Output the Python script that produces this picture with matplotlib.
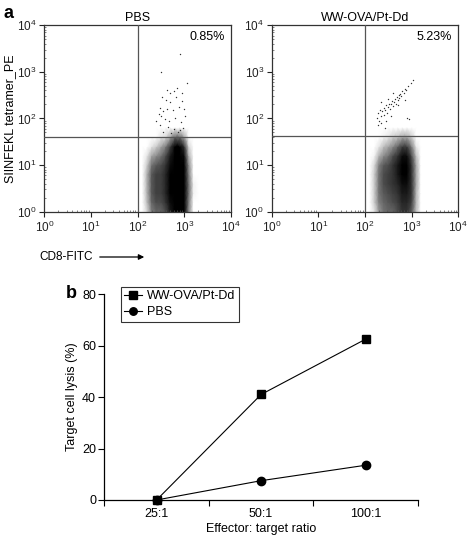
import numpy as np
import matplotlib
matplotlib.use('Agg')
import matplotlib.pyplot as plt
from matplotlib.ticker import LogLocator, NullFormatter, FixedLocator

plt.rcParams['font.family'] = ['Liberation Sans', 'DejaVu Sans']
plt.rcParams['mathtext.fontset'] = 'custom'
plt.rcParams['mathtext.rm'] = 'Liberation Sans'

# --- panel a: flow cytometry (values in log10 units) ---
panel_titles = ['PBS', 'WW-OVA/Pt-Dd']
panel_pcts = ['0.85%', '5.23%']
gate_y = [40, 42]
gate_x = 100

# density grid of the main cloud (0 = white, 1 = black)
grid_logx = [2.1, 2.2, 2.3, 2.4, 2.5, 2.6, 2.7, 2.8, 2.9, 3.0, 3.1, 3.2, 3.3]
grid_logy = [0.0, 0.2, 0.4, 0.6, 0.8, 1.0, 1.2, 1.4, 1.6, 1.8]
pbs_density = [
    [0, .15, .50, .60, .60, .70, .90, 1.0, 1.0, 1.0, .45, 0, 0],
    [0, .25, .60, .70, .70, .80, .95, 1.0, 1.0, 1.0, .50, 0, 0],
    [0, .30, .65, .75, .75, .85, 1.0, 1.0, 1.0, 1.0, .55, .05, 0],
    [0, .30, .65, .75, .75, .85, 1.0, 1.0, 1.0, 1.0, .55, .05, 0],
    [0, .30, .65, .75, .75, .85, 1.0, 1.0, 1.0, 1.0, .50, 0, 0],
    [0, .20, .55, .65, .70, .80, .95, 1.0, 1.0, 1.0, .45, 0, 0],
    [0, .10, .35, .45, .55, .70, .90, 1.0, 1.0, .95, .30, 0, 0],
    [0, 0, .10, .20, .35, .50, .75, 1.0, 1.0, .80, .15, 0, 0],
    [0, 0, 0, 0, .10, .15, .35, .60, .60, .35, 0, 0, 0],
    [0, 0, 0, 0, 0, 0, 0, 0, 0, 0, 0, 0, 0],
]
ova_density = [
    [0, .10, .40, .55, .60, .60, .70, .80, .80, .65, .25, 0, 0],
    [0, .20, .50, .60, .65, .70, .75, .85, .85, .75, .30, 0, 0],
    [0, .20, .55, .65, .70, .75, .80, .90, .90, .80, .30, 0, 0],
    [0, .20, .55, .70, .75, .80, .85, .95, .95, .80, .35, 0, 0],
    [0, .20, .55, .70, .75, .80, .90, 1.0, 1.0, .80, .35, 0, 0],
    [0, .15, .50, .65, .70, .80, .90, 1.0, 1.0, .80, .35, 0, 0],
    [0, .05, .30, .45, .55, .70, .80, .95, .95, .70, .25, 0, 0],
    [0, 0, .10, .25, .35, .45, .60, .75, .75, .50, .10, 0, 0],
    [0, 0, 0, .05, .10, .20, .25, .35, .35, .20, 0, 0, 0],
    [0, 0, 0, 0, 0, 0, 0, 0, 0, 0, 0, 0, 0],
]

# scattered events above the gate
pbs_up_x = [2.91, 2.51, 3.05, 2.62, 2.70, 2.78, 2.85, 2.52, 2.60, 2.70, 2.83, 2.95,
            2.48, 2.55, 2.45, 2.50, 2.62, 2.75, 2.88, 3.00, 2.58, 2.68, 2.80, 2.92,
            3.02, 2.47, 2.65, 2.78, 2.90, 2.98, 2.86, 2.72, 2.55, 2.95, 2.40]
pbs_up_y = [3.39, 3.00, 2.76, 2.62, 2.55, 2.58, 2.65, 2.45, 2.40, 2.35, 2.45, 2.38,
            2.22, 2.15, 2.10, 2.05, 2.20, 2.18, 2.25, 2.20, 1.98, 1.95, 2.00, 1.92,
            2.05, 1.85, 1.82, 1.78, 1.75, 1.80, 1.70, 1.68, 1.72, 2.55, 1.95]
ova_up_x = [2.25, 2.28, 2.30, 2.32, 2.35, 2.37, 2.40, 2.40, 2.43, 2.45, 2.47, 2.50,
            2.52, 2.54, 2.56, 2.58, 2.60, 2.62, 2.64, 2.66, 2.68, 2.70, 2.72, 2.74,
            2.76, 2.78, 2.80, 2.83, 2.86, 2.88, 2.92, 2.98, 3.02, 2.28, 2.35, 2.46,
            2.55, 2.90, 2.95, 2.60, 2.35, 2.85, 2.42, 2.70, 2.50]
ova_up_y = [2.02, 2.12, 1.95, 2.18, 2.05, 2.15, 2.22, 2.08, 2.18, 2.28, 2.12, 2.25,
            2.32, 2.20, 2.30, 2.38, 2.26, 2.35, 2.42, 2.32, 2.45, 2.40, 2.50, 2.44,
            2.52, 2.48, 2.58, 2.55, 2.64, 2.60, 2.70, 2.76, 2.82, 1.85, 1.90, 1.95,
            2.05, 2.02, 1.98, 2.55, 2.35, 2.40, 1.80, 2.28, 2.42]

# --- panel b: cytotoxicity ---
ratios = ['25:1', '50:1', '100:1']
lysis_ova = [0, 41, 62.5]
lysis_pbs = [0, 7.5, 13.5]

fig = plt.figure(figsize=(4.7, 5.36), dpi=100)

densities = [pbs_density, ova_density]
ups = [(pbs_up_x, pbs_up_y), (ova_up_x, ova_up_y)]
lefts = [0.0943, 0.578]
for i in range(2):
    ax = fig.add_axes([lefts[i], 0.605, 0.397, 0.348])
    ax.set_xscale('log')
    ax.set_yscale('log')
    gx = 10 ** np.array(grid_logx)
    gy = 10 ** np.array(grid_logy)
    ax.pcolormesh(gx, gy, np.array(densities[i]), cmap='gray_r', vmin=0, vmax=1,
                  shading='gouraud', zorder=1)
    ux, uy = ups[i]
    ax.scatter(10 ** np.array(ux), 10 ** np.array(uy), s=1.0, c='#333333',
               linewidths=0, zorder=2)
    ax.axvline(gate_x, color='#555555', lw=0.9, zorder=3)
    ax.axhline(gate_y[i], color='#555555', lw=0.9, zorder=3)
    ax.set_xlim(1, 1e4)
    ax.set_ylim(1, 1e4)
    ax.xaxis.set_major_locator(LogLocator(base=10, numticks=10))
    ax.yaxis.set_major_locator(LogLocator(base=10, numticks=10))
    ax.xaxis.set_minor_locator(LogLocator(base=10, subs=np.arange(2, 10), numticks=10))
    ax.yaxis.set_minor_locator(LogLocator(base=10, subs=np.arange(2, 10), numticks=10))
    ax.xaxis.set_minor_formatter(NullFormatter())
    ax.yaxis.set_minor_formatter(NullFormatter())
    ax.tick_params(which='major', direction='out', length=3.5, width=0.8,
                   labelsize=8.5, pad=2, colors='#222222')
    ax.tick_params(which='minor', direction='in', length=1.5, width=0.5, colors='#555555')
    for s in ax.spines.values():
        s.set_color('#333333')
        s.set_linewidth(0.9)
    ax.set_title(panel_titles[i], fontsize=9, pad=3)
    ax.text(0.968, 0.936, panel_pcts[i], transform=ax.transAxes, ha='right',
            va='center', fontsize=9)
    if i == 0:
        ax.set_ylabel('SIINFEKL tetramer_PE', fontsize=9, labelpad=1)

fig.text(3 / 470, 1 - 13 / 536, 'a', fontsize=13, fontweight='bold', va='center')
fig.text(39 / 470, 1 - 257 / 536, 'CD8-FITC', fontsize=8.5, va='center')
fig.patches.append(matplotlib.patches.FancyArrowPatch(
    (97 / 470, 1 - 257 / 536), (147 / 470, 1 - 257 / 536), transform=fig.transFigure,
    arrowstyle='-|>', mutation_scale=8, lw=0.9, color='black'))

# panel b
axb = fig.add_axes([0.222, 0.0672, 0.667, 0.384])
xpos = np.arange(len(ratios)) + 0.5
axb.plot(xpos, lysis_ova, color='black', lw=0.8, marker='s', markersize=6,
         label='WW-OVA/Pt-Dd', clip_on=False, zorder=3)
axb.plot(xpos, lysis_pbs, color='black', lw=0.8, marker='o', markersize=6,
         label='PBS', clip_on=False, zorder=3)
axb.set_xlim(0, 3)
axb.set_ylim(0, 80)
axb.set_yticks([0, 20, 40, 60, 80])
axb.xaxis.set_major_locator(FixedLocator([0, 1, 2, 3]))
axb.set_xticklabels([])
axb.set_xticks(xpos, minor=True)
axb.set_xticklabels(ratios, minor=True)
axb.tick_params(axis='x', which='minor', length=0, labelsize=9, pad=6)
axb.tick_params(axis='x', which='major', direction='out', length=4, width=0.8)
axb.tick_params(axis='y', direction='out', length=4, width=0.8, labelsize=9, pad=2)
axb.spines['top'].set_visible(False)
axb.spines['right'].set_visible(False)
for s in ['left', 'bottom']:
    axb.spines[s].set_linewidth(0.9)
axb.set_xlabel('Effector: target ratio', fontsize=9, labelpad=2)
axb.set_ylabel('Target cell lysis (%)', fontsize=9, labelpad=3)
leg = axb.legend(loc='upper left', bbox_to_anchor=(0.052, 1.037), borderaxespad=0,
                 fontsize=9, frameon=True, fancybox=False, edgecolor='black',
                 handlelength=1.4, handletextpad=0.4, labelspacing=0.3,
                 borderpad=0.3, markerscale=0.9)
leg.get_frame().set_linewidth(0.8)
fig.text(66 / 470, 1 - 293 / 536, 'b', fontsize=13, fontweight='bold', va='center')

fig.savefig('out.png', dpi=100)
